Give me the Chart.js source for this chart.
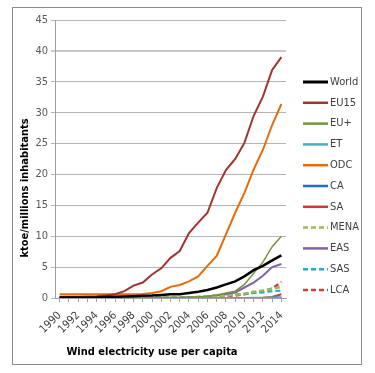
<!DOCTYPE html>
<html><head><meta charset="utf-8">
<script src="https://cdn.jsdelivr.net/npm/chart.js@4/dist/chart.umd.min.js"></script>
<style>html,body{margin:0;padding:0;background:#fff}#wrap{width:375px;height:373px;position:relative}</style>
</head><body><div id="wrap"><canvas id="c" width="375" height="373"></canvas></div>
<script>
const years = ['1990','1991','1992','1993','1994','1995','1996','1997','1998','1999','2000','2001','2002','2003','2004','2005','2006','2007','2008','2009','2010','2011','2012','2013','2014'];
const yTicks = [0,5,10,15,20,25,30,35,40,45];
const world = [0.1,0.1,0.1,0.1,0.1,0.15,0.2,0.25,0.3,0.35,0.4,0.5,0.6,0.6,0.8,1.0,1.3,1.7,2.2,2.7,3.5,4.5,5.2,6.1,6.9];
const eu15  = [0.2,0.2,0.2,0.25,0.3,0.4,0.6,1.1,2.0,2.5,3.8,4.8,6.5,7.6,10.5,12.2,13.8,17.8,20.7,22.5,25.1,29.5,32.6,36.9,39.0];
const euPlus= [0,0,0,0,0,0,0,0,0.02,0.03,0.05,0.07,0.1,0.1,0.15,0.2,0.3,0.5,0.8,1.1,2.2,4.0,5.8,8.3,10.0];
const et    = [0,0,0,0,0,0,0,0,0,0,0,0,0,0,0,0,0,0,0,0.01,0.02,0.03,0.05,0.07,0.1];
const odc   = [0.6,0.6,0.6,0.6,0.6,0.6,0.6,0.6,0.6,0.65,0.8,1.1,1.8,2.1,2.7,3.5,5.2,6.8,10.3,13.8,17.0,20.8,24.0,28.0,31.4];
const ca    = [0,0,0,0,0,0,0,0,0,0,0,0,0,0,0,0,0,0,0,0,0,0.01,0.02,0.04,0.1];
const sa    = [0,0,0,0,0,0,0,0,0,0,0,0,0,0,0,0,0,0,0,0,0,0.02,0.05,0.15,0.6];
const mena  = [0,0,0,0,0,0,0,0,0,0,0.02,0.03,0.04,0.04,0.05,0.1,0.2,0.3,0.4,0.5,0.7,1.0,1.2,1.5,1.8];
const eas   = [0,0,0,0,0,0,0,0,0,0,0.02,0.03,0.04,0.05,0.07,0.1,0.2,0.4,0.6,0.9,1.7,2.5,3.6,5.0,5.5];
const sas   = [0,0,0,0,0,0,0,0,0,0,0.05,0.07,0.08,0.1,0.15,0.2,0.3,0.4,0.5,0.6,0.7,0.8,0.9,1.1,1.2];
const lca   = [0,0,0,0,0,0,0,0,0,0,0,0,0,0,0.05,0.1,0.15,0.2,0.3,0.4,0.6,0.9,1.1,1.5,2.6];

const FONT = "'Liberation Sans Narrow','DejaVu Sans Condensed',sans-serif";
const series = [
  {label:'World', data:world, color:'#000000', width:2.5, dash:[]},
  {label:'EU15', data:eu15, color:'#a0342f', width:2, dash:[]},
  {label:'EU+', data:euPlus, color:'#77933c', width:1.5, dash:[]},
  {label:'ET', data:et, color:'#4bacc6', width:2, dash:[]},
  {label:'ODC', data:odc, color:'#e46c0a', width:2, dash:[]},
  {label:'CA', data:ca, color:'#1f6fc5', width:2, dash:[]},
  {label:'SA', data:sa, color:'#d03a32', width:2, dash:[]},
  {label:'MENA', data:mena, color:'#9bbb59', width:2.5, dash:[5,3]},
  {label:'EAS', data:eas, color:'#8064a2', width:2, dash:[]},
  {label:'SAS', data:sas, color:'#21a9d8', width:2, dash:[5,3]},
  {label:'LCA', data:lca, color:'#c8403d', width:2.5, dash:[5,3]}
];

const extras = {
  id:'extras',
  afterDraw(chart){
    const ctx = chart.ctx;
    ctx.save();
    ctx.strokeStyle = '#8c8c8c'; ctx.lineWidth = 1;
    ctx.strokeRect(12.5, 7.5, 349, 357);
    let y0 = 82, dy = 20.8;
    series.forEach((s,i)=>{
      const y = y0 + i*dy;
      ctx.strokeStyle = s.color; ctx.lineWidth = s.label==='World'?3:2.5;
      ctx.setLineDash(s.dash);
      ctx.beginPath(); ctx.moveTo(303, y); ctx.lineTo(328, y); ctx.stroke();
      ctx.setLineDash([]);
      ctx.fillStyle = '#404040'; ctx.font = '11px ' + FONT;
      ctx.textAlign = 'left'; ctx.textBaseline = 'middle';
      ctx.fillText(s.label, 330, y);
    });
    ctx.fillStyle = '#000'; ctx.font = 'bold 11px ' + FONT;
    ctx.textAlign = 'center'; ctx.textBaseline = 'middle';
    ctx.fillText('Wind electricity use per capita', 152, 352);
    ctx.translate(25, 188); ctx.rotate(-Math.PI/2);
    ctx.fillText('ktoe/millions inhabitants', 0, 0);
    ctx.restore();
  }
};

new Chart(document.getElementById('c'), {
  type:'line',
  data:{labels:years, datasets: series.map(s=>({label:s.label, data:s.data, borderColor:s.color, backgroundColor:s.color, borderWidth:s.width, borderDash:s.dash, pointRadius:0, tension:0, fill:false}))},
  options:{
    responsive:false, animation:false, devicePixelRatio:1,
    layout:{padding:{left:0, top:20, right:89, bottom:0}},
    plugins:{legend:{display:false}, tooltip:{enabled:false}},
    scales:{
      x:{
        type:'category', offset:true,
        afterFit(s){ s.height = 75; },
        grid:{drawOnChartArea:false, drawTicks:true, tickLength:4, color:'#a0a0a0'},
        border:{color:'#a0a0a0'},
        ticks:{autoSkip:false, maxRotation:45, minRotation:45, color:'#404040', font:{family:FONT, size:11}, padding:7,
          callback(v,i){ return i%2===0 ? years[i] : ''; }}
      },
      y:{
        min:0, max:45,
        afterFit(s){ s.width = 55; },
        afterBuildTicks(s){ s.ticks = yTicks.map(v=>({value:v})); },
        grid:{color:(c)=> c.tick && c.tick.value===40 ? '#c8c8c8' : '#b4b4b4', lineWidth:(c)=> c.tick && c.tick.value===40 ? 2 : 1, tickLength:4},
        border:{color:'#a0a0a0'},
        ticks:{color:'#595959', font:{family:FONT, size:11}, padding:3}
      }
    }
  },
  plugins:[extras]
});
</script>
</body></html>
